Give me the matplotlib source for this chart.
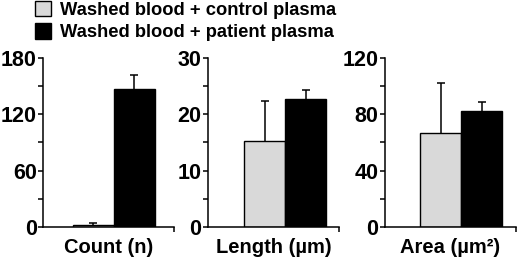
import matplotlib.pyplot as plt
from matplotlib.patches import Patch

plt.rcParams['font.family'] = ['Liberation Sans', 'DejaVu Sans']
plt.rcParams['font.weight'] = 'bold'

groups = ["Washed blood + control plasma", "Washed blood + patient plasma"]
colors = ["#d9d9d9", "#000000"]

panels = ["Count (n)", "Length (\u00b5m)", "Area (\u00b5m\u00b2)"]
means_control = [2, 15.3, 67]
means_patient = [147, 22.7, 82]
err_control = [2, 7, 35]
err_patient = [15, 1.6, 7]
ymax = [180, 30, 120]
yticks = [[0, 60, 120, 180], [0, 10, 20, 30], [0, 40, 80, 120]]

fig = plt.figure(figsize=(5.2, 2.59), dpi=100)
lefts = [0.083, 0.40, 0.740]
xstart = [-1.22, -1.39, -1.37]
width = 0.252

for i in range(3):
    ax = fig.add_axes([lefts[i], 0.124, width, 0.652])
    vals = [means_control[i], means_patient[i]]
    errs = [err_control[i], err_patient[i]]
    ax.bar([0, 1], vals, width=1.0, color=colors, edgecolor="black",
           linewidth=1.0, zorder=2)
    # upward error bars only
    for x, v, e in zip([0, 1], vals, errs):
        ax.vlines(x, v, v + e, color="black", linewidth=1.1, zorder=1)
        ax.hlines(v + e, x - 0.09, x + 0.09, color="black", linewidth=1.1, zorder=1)
    ax.set_xlim(xstart[i], xstart[i] + 3.2)
    ax.set_ylim(0, ymax[i])
    ax.set_yticks(yticks[i])
    ax.set_yticks([t + (yticks[i][1] / 2) for t in yticks[i][:-1]], minor=True)
    ax.set_xticks([xstart[i] + 3.2])
    ax.set_xticklabels([""])
    ax.set_xlabel(panels[i], fontsize=14.5, fontweight="bold", labelpad=1)
    ax.spines["top"].set_visible(False)
    ax.spines["right"].set_visible(False)
    for s in ["left", "bottom"]:
        ax.spines[s].set_linewidth(1.1)
    ax.tick_params(axis="both", which="both", width=1.1, length=3.8, direction="out")
    ax.tick_params(axis="y", labelsize=15.5, pad=0.8)
    for lab in ax.get_yticklabels():
        lab.set_fontweight("bold")

handles = [Patch(facecolor=c, edgecolor="black", linewidth=1.0) for c in colors]
fig.legend(handles, groups, loc="upper left", bbox_to_anchor=(0.035, 1.06),
           frameon=False, handlelength=0.9, handleheight=0.9,
           handletextpad=0.5, labelspacing=0.25, prop={"weight": "bold", "size": 13.2})

fig.savefig("out.png", dpi=100)
